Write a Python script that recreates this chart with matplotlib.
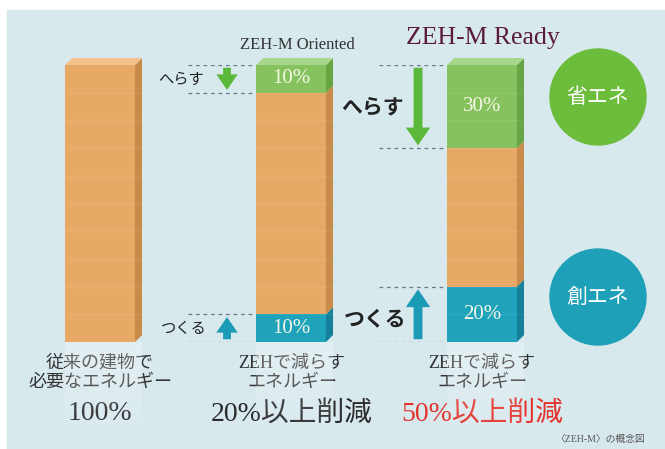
import numpy as np
import matplotlib
matplotlib.use("Agg")
import matplotlib.pyplot as plt
from matplotlib.patches import Rectangle, Circle, Polygon

plt.rcParams['font.family'] = ['Liberation Serif', 'Noto Sans CJK JP', 'DejaVu Sans']

# データ
kategorie = ['従来の建物で\n必要なエネルギー', 'ZEHで減らす\nエネルギー', 'ZEHで減らす\nエネルギー']
wynik = ['100%', '20%以上削減', '50%以上削減']
tytuly = ['', 'ZEH-M Oriented', 'ZEH-M Ready']
total = [100, 100, 100]
herasu = [0, 10, 30]     # 省エネ [%]
tsukuru = [0, 10, 20]    # 創エネ [%]

JP = ['Noto Sans CJK JP', 'DejaVu Sans']
SER = ['Liberation Serif', 'Noto Sans CJK JP']

# kolory
bg = '#d8e9ee'
orange = ('#e9a966', '#c98b4a', '#f2c189')
green = ('#86c35e', '#67a545', '#a8d68a')
teal = ('#1ea3bb', '#15809a', '#4cbcd0')

W, H = 665, 449
fig = plt.figure(figsize=(W / 100, H / 100), dpi=100, facecolor='white')

# tlo i dekoracje w pikselach
ov = fig.add_axes([0, 0, 1, 1])
ov.set_xlim(0, W)
ov.set_ylim(H, 0)
ov.axis('off')
ov.add_patch(Rectangle((7, 10), W - 7, H - 10, color=bg, zorder=0))

# os danych: y=0 -> 342 px, y=100 -> 65 px, slupki co 191 px od 100 px
y0_px, y100_px = 342, 65
ax = fig.add_axes([0, (H - y0_px) / H, 1, (y0_px - y100_px) / H])
ax.set_xlim(-100 / 191, (W - 100) / 191)
ax.set_ylim(0, 100)
ax.axis('off')
ax.patch.set_alpha(0)

bw = 0.366
dx, dy = 0.037, 2.5

def segment(x, lo, hi, cols, top=False):
    x0, x1 = x - bw / 2, x + bw / 2
    ax.add_patch(Rectangle((x0, lo), bw, hi - lo, color=cols[0], lw=0, zorder=3))
    ax.add_patch(Polygon([(x1, lo), (x1 + dx, lo + dy), (x1 + dx, hi + dy), (x1, hi)],
                         closed=True, color=cols[1], lw=0, zorder=3, clip_on=False))
    if top:
        ax.add_patch(Polygon([(x0, hi), (x0 + dx, hi + dy), (x1 + dx, hi + dy), (x1, hi)],
                             closed=True, color=cols[2], lw=0, zorder=4, clip_on=False))

for i in range(3):
    g, t = herasu[i], tsukuru[i]
    if t:
        segment(i, 0, t, teal)
    segment(i, t, total[i] - g, orange, top=(g == 0))
    if g:
        segment(i, total[i] - g, total[i], green, top=True)
    # slabe poziome prazki
    ax.hlines(np.arange(10, total[i], 10), i - bw / 2, i + bw / 2 + dx,
              color='white', alpha=0.07, lw=1, zorder=5)
    # odbicie pod slupkiem
    for k in range(6):
        ax.add_patch(Rectangle((i - bw / 2, -5 * (k + 1)), bw + dx, 5, color='white',
                               alpha=0.28 - 0.04 * k, lw=0, zorder=1, clip_on=False))

# strzalki, linie przerywane, opisy
for i in (1, 2):
    g, t = herasu[i], tsukuru[i]
    big = (i == 2)
    for lo, hi, col, up in ((total[i] - g, total[i], '#5cb83a', False), (0, t, '#1b9bb5', True)):
        ax.hlines([lo, hi], i - 0.54, i - bw / 2, colors='#667788', linestyles=(0, (3, 3)),
                  lw=0.9, zorder=2)
        a, b = (lo + 1, hi - 1) if up else (hi - 1, lo + 1)
        style = 'simple,head_length=0.8,head_width=1.1,tail_width=0.4'
        ax.annotate('', xy=(i - 0.335, b), xytext=(i - 0.335, a),
                    arrowprops=dict(arrowstyle=style, mutation_scale=16 if big else 14,
                                    fc=col, ec='none', shrinkA=0, shrinkB=0), zorder=4)
    ax.text(i - 0.575, total[i] - g / 2, 'へらす', family=JP, fontsize=15 if big else 11,
            weight='bold' if big else 'normal', color='#222222', ha='center', va='center')
    ax.text(i - 0.56, t / 2 if not big else t / 2 - 1.5, 'つくる', family=JP,
            fontsize=15 if big else 11, weight='bold' if big else 'normal',
            color='#222222', ha='center', va='center')
    ax.text(i, total[i] - g / 2, f'{g}%', family=SER, fontsize=15, color='#f6f6e6',
            ha='center', va='center', zorder=6)
    ax.text(i, t / 2, f'{t}%', family=SER, fontsize=15, color='#f6f6e6',
            ha='center', va='center', zorder=6)

# tytuly
ov.text(297, 45, tytuly[1], family=SER, fontsize=12, color='#333333', ha='center', va='center')
ov.text(483, 38, tytuly[2], family=SER, fontsize=18.5, color='#5a1a3a', ha='center', va='center')

# kola
ov.add_patch(Circle((598, 97), 48, color='#6cbd3c', zorder=2))
ov.add_patch(Circle((598, 297), 48, color='#1fa0b9', zorder=2))
ov.text(598, 97, '省エネ', family=JP, fontsize=15, color='white', ha='center', va='center', zorder=3)
ov.text(598, 297, '創エネ', family=JP, fontsize=15, color='white', ha='center', va='center', zorder=3)

# podpisy pod slupkami
xc = [100, 292, 482]
for i in range(3):
    ov.text(xc[i], 373, kategorie[i], family=SER, fontsize=13, color='#333333',
            ha='center', va='center', linespacing=1.2, zorder=3)
    ov.text(xc[i], 414, wynik[i], family=SER, fontsize=20,
            color='#e3332c' if i == 2 else '#2a2a2a',
            ha='center', va='center', zorder=3)

ov.text(600, 439, '〈ZEH-M〉の概念図', family=SER, fontsize=7, color='#555555',
        ha='center', va='center')

fig.savefig('out.png', dpi=100, facecolor=fig.get_facecolor())
